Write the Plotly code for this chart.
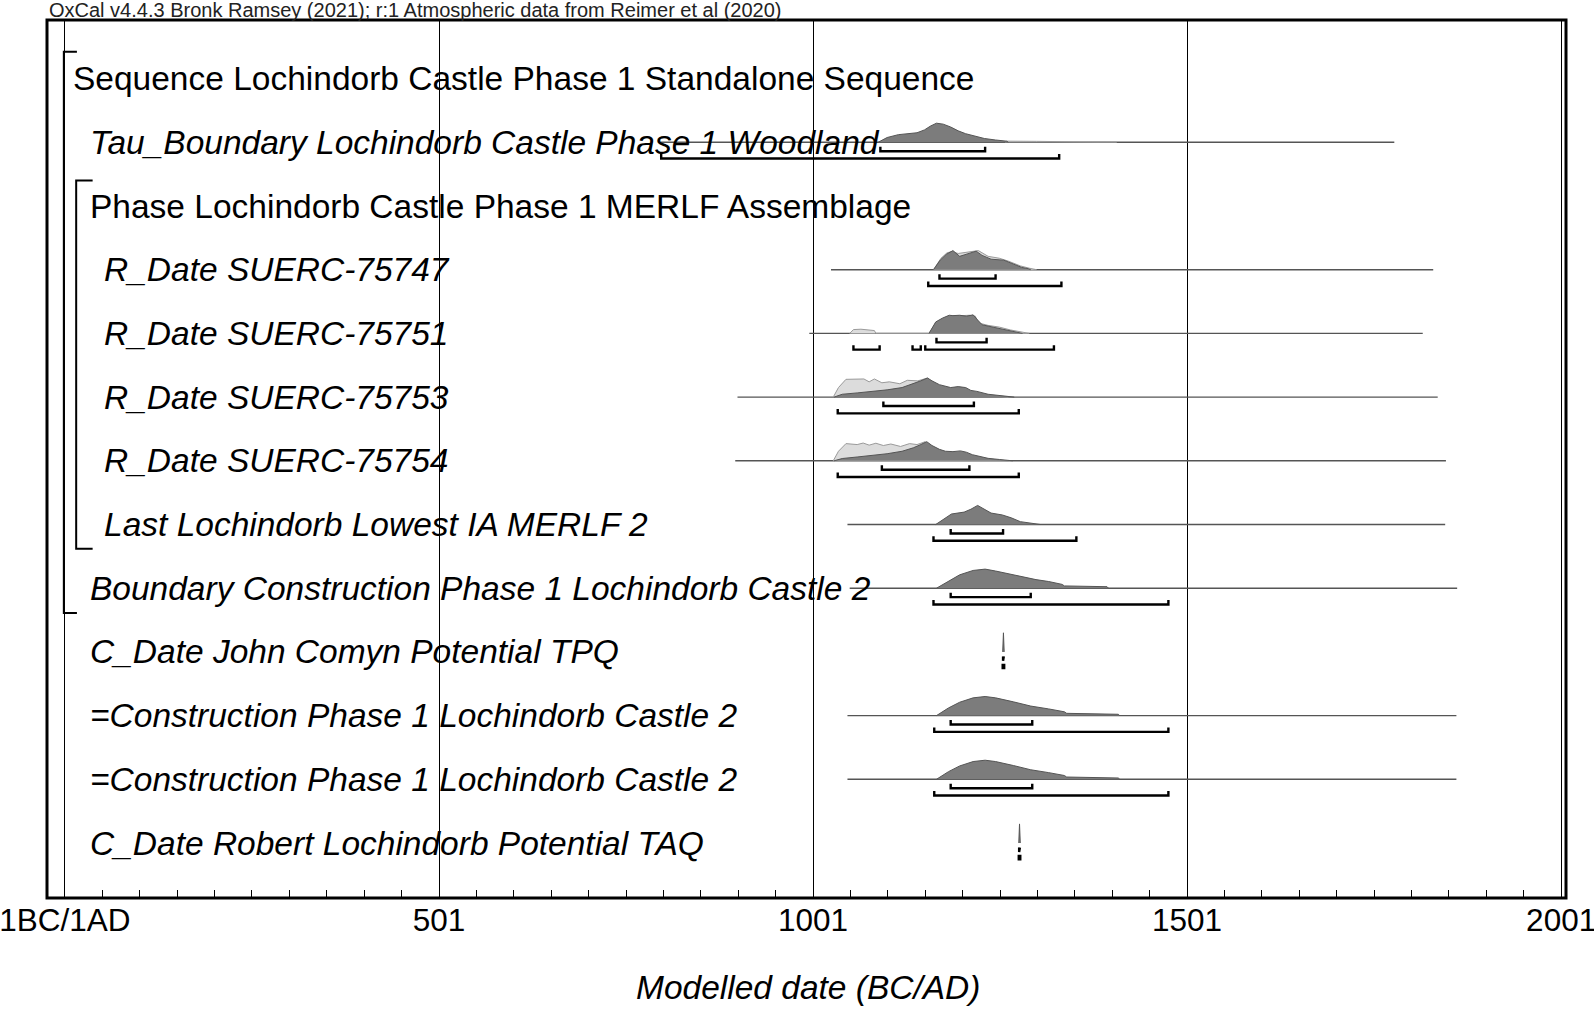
import plotly.graph_objects as go

# ── Dados (OxCal multiplot) ──────────────────────────────────────────────────

ROW_LABELS = [
    "Sequence Lochindorb Castle Phase 1 Standalone Sequence",
    "Tau_Boundary Lochindorb Castle Phase 1 Woodland",
    "Phase Lochindorb Castle Phase 1 MERLF Assemblage",
    "R_Date SUERC-75747",
    "R_Date SUERC-75751",
    "R_Date SUERC-75753",
    "R_Date SUERC-75754",
    "Last Lochindorb Lowest IA MERLF 2",
    "Boundary Construction Phase 1 Lochindorb Castle 2",
    "C_Date John Comyn Potential TPQ",
    "=Construction Phase 1 Lochindorb Castle 2",
    "=Construction Phase 1 Lochindorb Castle 2",
    "C_Date Robert Lochindorb Potential TAQ",
]
ROW_LEVEL = [0, 1, 1, 2, 2, 2, 2, 2, 1, 1, 1, 1, 1]
ROW_ITALIC = [False, True, False, True, True, True, True, True, True, True, True, True, True]

# extensão da linha de base de cada linha (anos)
LINE_START = [None, 797, None, 1025, 996, 900, 897, 1047, 1050, None, 1047, 1047, None]
LINE_END = [None, 1778, None, 1830, 1816, 1836, 1847, 1846, 1862, None, 1861, 1861, None]

# intervalos HPD 68.2% e 95.4%
HPD68 = [None, [[1091, 1231]], None, [[1170, 1245]], [[1166, 1233]],
         [[1095, 1216]], [[1093, 1210]], [[1185, 1255]], [[1185, 1292]],
         [[1255, 1256]], [[1185, 1294]], [[1185, 1294]], [[1276.5, 1277.5]]]
HPD95 = [None, [[798, 1330]], None, [[1155, 1333]],
         [[1055, 1090], [1134, 1145], [1151, 1323]],
         [[1034, 1276]], [[1034, 1276]], [[1162, 1353]], [[1162, 1476]],
         [[1254.5, 1256.5]], [[1163, 1476]], [[1163, 1476]], [[1276, 1278]]]

# distribuições (ano, altura relativa)
TAU_YEARS = [1088, 1100, 1115, 1130, 1140, 1150, 1158, 1166, 1175, 1185, 1195, 1205, 1215, 1230, 1245, 1260, 1262]
TAU_POST = [0, .25, .4, .45, .5, .65, .85, 1, .95, .8, .6, .45, .35, .2, .12, .06, 0]
TAU_TAIL_YEARS = [1258, 1260, 1300, 1350, 1405, 1407]
TAU_TAIL = [0, .06, .05, .04, .03, 0]

R75747_YEARS = [1162, 1171, 1179, 1188, 1197, 1206, 1219, 1227, 1239, 1256, 1268, 1280, 1289, 1292]
R75747_POST = [0, .5, .8, 1, .7, .8, .97, .75, .55, .5, .3, .12, .05, 0]
R75747_LIKE_YEARS = [1162, 1172, 1180, 1186, 1195, 1205, 1215, 1222, 1235, 1250, 1262, 1278, 1290, 1300]
R75747_LIKE = [0, .6, .88, .95, .85, .9, .95, 1, .7, .6, .45, .2, .08, 0]

R75751_YEARS = [1156, 1165, 1174, 1183, 1188, 1197, 1206, 1215, 1221, 1227, 1239, 1251, 1263, 1275, 1281]
R75751_POST = [0, .6, .8, .95, .93, .95, .9, .97, .7, .45, .35, .25, .12, .05, 0]
R75751_LIKE_YEARS = [1050, 1055, 1065, 1075, 1083, 1085, 1156, 1165, 1175, 1185, 1195, 1210, 1218, 1222, 1235, 1250, 1265, 1280, 1290]
R75751_LIKE = [0, .2, .22, .2, .15, 0, 0, .55, .75, .9, .92, .95, .9, .55, .42, .33, .18, .06, 0]

R75753_YEARS = [1029, 1040, 1060, 1080, 1100, 1120, 1135, 1145, 1154, 1160, 1170, 1178, 1185, 1195, 1205, 1212, 1220, 1235, 1250, 1267, 1270]
R75753_POST = [0, .15, .22, .3, .38, .5, .7, .85, 1, .85, .65, .55, .5, .55, .5, .35, .3, .15, .08, .03, 0]
R75753_LIKE_YEARS = [1028, 1035, 1045, 1062, 1069, 1076, 1083, 1093, 1103, 1117, 1127, 1141, 1154, 1160, 1167, 1185, 1200, 1215, 1240, 1262]
R75753_LIKE = [0, .5, .93, .92, .95, .8, .95, .75, .8, .7, .88, .85, 1, .7, .25, .3, .28, .15, .06, 0]

R75754_YEARS = [1029, 1040, 1060, 1080, 1100, 1120, 1135, 1145, 1153, 1160, 1170, 1178, 1188, 1198, 1206, 1214, 1222, 1235, 1250, 1265, 1268]
R75754_POST = [0, .12, .2, .28, .37, .5, .68, .85, 1, .8, .6, .5, .48, .52, .45, .32, .25, .13, .07, .03, 0]
R75754_LIKE_YEARS = [1028, 1035, 1045, 1060, 1068, 1076, 1085, 1095, 1105, 1118, 1130, 1140, 1151, 1158, 1166, 1185, 1200, 1215, 1240, 1262]
R75754_LIKE = [0, .5, .9, .85, .93, .82, .92, .8, .88, .75, .9, .85, 1, .72, .25, .3, .27, .14, .06, 0]

LAST_YEARS = [1165, 1174, 1186, 1203, 1212, 1221, 1230, 1239, 1254, 1266, 1278, 1287, 1303, 1305]
LAST_POST = [0, .25, .55, .65, .8, 1, .8, .6, .5, .35, .15, .1, .05, 0]

BOUND_YEARS = [1166, 1180, 1197, 1215, 1231, 1245, 1263, 1281, 1299, 1316, 1334, 1337, 1376, 1394, 1396]
BOUND_POST = [0, .3, .7, .93, 1, .9, .75, .6, .45, .35, .2, .12, .1, .08, 0]

CONSTR_YEARS = [1166, 1182, 1197, 1215, 1231, 1245, 1269, 1292, 1316, 1337, 1340, 1376, 1409, 1411]
CONSTR_POST = [0, .4, .7, .93, 1, .93, .72, .5, .35, .2, .12, .1, .07, 0]

TPQ_YEARS = [1254.5, 1255.5, 1256.5]
TPQ_POST = [0, 1, 0]
TAQ_YEARS = [1276, 1277, 1278]
TAQ_POST = [0, 1, 0]

# (linha, anos, alturas, tipo)
DISTRIBUICOES = [
    (1, TAU_TAIL_YEARS, TAU_TAIL, "like"),
    (1, TAU_YEARS, TAU_POST, "post"),
    (3, R75747_LIKE_YEARS, R75747_LIKE, "like"),
    (3, R75747_YEARS, R75747_POST, "post"),
    (4, R75751_LIKE_YEARS, R75751_LIKE, "like"),
    (4, R75751_YEARS, R75751_POST, "post"),
    (5, R75753_LIKE_YEARS, R75753_LIKE, "like"),
    (5, R75753_YEARS, R75753_POST, "post"),
    (6, R75754_LIKE_YEARS, R75754_LIKE, "like"),
    (6, R75754_YEARS, R75754_POST, "post"),
    (7, LAST_YEARS, LAST_POST, "post"),
    (8, BOUND_YEARS, BOUND_POST, "post"),
    (9, TPQ_YEARS, TPQ_POST, "post"),
    (10, CONSTR_YEARS, CONSTR_POST, "post"),
    (11, CONSTR_YEARS, CONSTR_POST, "post"),
    (12, TAQ_YEARS, TAQ_POST, "post"),
]

TICK_VALS = [1, 501, 1001, 1501, 2001]
TICK_TEXT = ["1BC/1AD", "501", "1001", "1501", "2001"]

# ── Estilo ───────────────────────────────────────────────────────────────────
FONTE = "Liberation Sans, Arial, sans-serif"
ALTURA = 0.3        # altura máxima de uma distribuição (em linhas)
OFF68, OFF95, TICK = 0.14, 0.255, 0.07
ESTILO = {
    "like": dict(fill="#dcdcdc", line="#9a9a9a"),
    "post": dict(fill="#7c7c7c", line="#555555"),
}
INDENT = {0: 9, 1: 32, 2: 51}

fig = go.Figure()

# linhas de base
for i, (a, b) in enumerate(zip(LINE_START, LINE_END)):
    if a is None:
        continue
    fig.add_trace(go.Scatter(
        x=[a, b], y=[i, i], mode="lines",
        line=dict(color="#555555", width=1.4), hoverinfo="skip",
    ))

# distribuições
for row, anos, alturas, tipo in DISTRIBUICOES:
    est = ESTILO[tipo]
    fig.add_trace(go.Scatter(
        x=anos, y=[row - ALTURA * h for h in alturas],
        mode="lines", fill="toself", fillcolor=est["fill"],
        line=dict(color=est["line"], width=1),
        hoverinfo="skip",
    ))

# colchetes HPD
for offset, faixas in ((OFF68, HPD68), (OFF95, HPD95)):
    for i, lista in enumerate(faixas):
        if not lista:
            continue
        for a, b in lista:
            y = i + offset
            fig.add_trace(go.Scatter(
                x=[a, a, b, b], y=[y - TICK, y, y, y - TICK], mode="lines",
                line=dict(color="black", width=2.4), hoverinfo="skip",
            ))

# rótulos das linhas
for i, texto in enumerate(ROW_LABELS):
    fig.add_annotation(
        x=INDENT[ROW_LEVEL[i]], y=i, xref="x", yref="y",
        text=f"<i>{texto}</i>" if ROW_ITALIC[i] else texto,
        showarrow=False, xanchor="left", yanchor="middle",
        font=dict(family=FONTE, size=33.5, color="black"),
    )

# colchetes de estrutura (Sequence / Phase)
for x0, x1, y0, y1 in ((-0.5, 17, -0.42, 8.39), (16, 38, 1.6, 7.38)):
    fig.add_shape(type="path", xref="x", yref="y",
                  path=f"M {x1} {y0} L {x0} {y0} L {x0} {y1} L {x1} {y1}",
                  line=dict(color="black", width=2))

# moldura
fig.add_shape(type="rect", xref="paper", yref="paper", x0=0, x1=1, y0=0, y1=1,
              line=dict(color="black", width=3))

fig.add_annotation(
    x=0, y=1.0115, xref="paper", yref="paper", xanchor="left", yanchor="middle",
    text="OxCal v4.4.3 Bronk Ramsey (2021); r:1 Atmospheric data from Reimer et al (2020)",
    showarrow=False, font=dict(family=FONTE, size=20, color="#222"),
)
fig.add_annotation(
    x=0.501, y=-0.102, xref="paper", yref="paper", xanchor="center", yanchor="middle",
    text="<i>Modelled date (BC/AD)</i>", showarrow=False,
    font=dict(family=FONTE, size=33.5, color="black"),
)

fig.update_layout(
    width=1594, height=1010,
    margin=dict(l=47, r=28, t=20, b=112),
    paper_bgcolor="white", plot_bgcolor="white",
    showlegend=False,
    xaxis=dict(
        range=[-23, 2007.5], tickmode="array", tickvals=TICK_VALS, ticktext=TICK_TEXT,
        ticks="inside", ticklen=10, tickwidth=1.2, tickcolor="black",
        showgrid=True, gridcolor="black", gridwidth=1.2, zeroline=False, showline=False,
        tickfont=dict(family=FONTE, size=31.5, color="black"),
        ticklabeloverflow="allow", automargin=False,
        minor=dict(tickmode="linear", tick0=1, dtick=50, ticks="inside", ticklen=8,
                   tickcolor="black", tickwidth=1, showgrid=False),
    ),
    yaxis=dict(range=[12.863, -0.92], visible=False),
)

# a página padrão tem margem de 8px no body; zera para alinhar com a janela
fig.write_html("out.html", config={"displayModeBar": False},
               post_script="document.body.style.margin='0';document.body.style.overflow='hidden';")
